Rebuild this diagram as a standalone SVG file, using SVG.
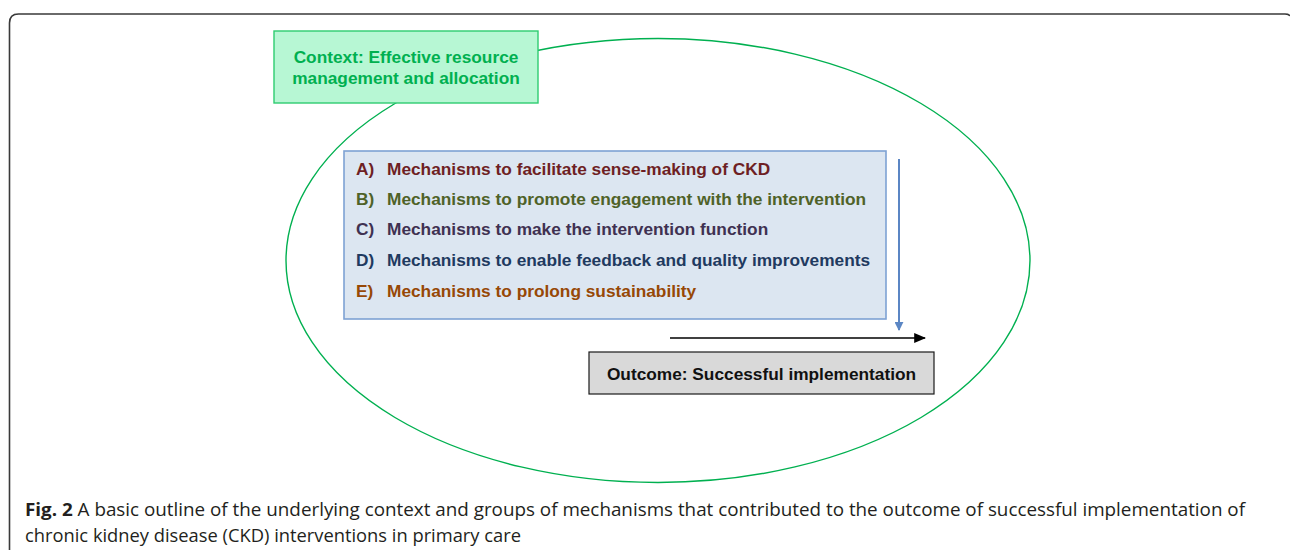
<svg xmlns="http://www.w3.org/2000/svg" width="1290" height="550" viewBox="0 0 1290 550">
  <defs>
    <style>
      .frame { fill: none; stroke: #3a3a3a; stroke-width: 1.6; }
      .context-ring { fill: none; stroke: #00b050; stroke-width: 1.4; }
      .ctx-box { fill: #b7f7d4; stroke: #2ecc71; stroke-width: 1.4; }
      .mech-box { fill: #dce6f1; stroke: #7ea2d4; stroke-width: 1.6; }
      .out-box { fill: #d9d9d9; stroke: #1a1a1a; stroke-width: 1.2; }
      .lbl { font-family: "Liberation Sans", Arial, sans-serif; font-weight: bold; font-size: 17.3px; }
      .ctx-text { fill: #00b050; text-anchor: middle; }
      .a { fill: #6e1f24; }
      .b { fill: #4f6228; }
      .c { fill: #3f3151; }
      .d { fill: #1f3a60; }
      .e { fill: #974806; }
      .out-text { fill: #111111; text-anchor: middle; }
      .caption { font-family: "Open Sans", "Liberation Sans", sans-serif; font-size: 18px; fill: #231f20; }
    </style>
    <marker id="head-blue" viewBox="0 0 10 10" refX="9" refY="5" markerWidth="9" markerHeight="9" orient="auto" markerUnits="userSpaceOnUse">
      <path d="M0,0 L10,5 L0,10 z" fill="#5b86c4"/>
    </marker>
    <marker id="head-black" viewBox="0 0 10 10" refX="9" refY="5" markerWidth="12" markerHeight="10" orient="auto" markerUnits="userSpaceOnUse" preserveAspectRatio="none">
      <path d="M0,0 L10,5 L0,10 z" fill="#000000"/>
    </marker>
  </defs>

  <!-- figure frame: rounded top-left corner, open to the right and bottom -->
  <path class="frame" d="M9.5,550 V23 Q9.5,14 18.5,14 H1285 Q1289,14 1290,16"/>

  <!-- context ellipse -->
  <g id="context-ring">
    <ellipse class="context-ring" cx="658" cy="260.5" rx="372" ry="222"/>
  </g>

  <g id="context">
    <rect class="ctx-box" x="274" y="31" width="264" height="72"/>
    <text class="lbl ctx-text" x="406" y="63">Context: Effective resource</text>
    <text class="lbl ctx-text" x="406" y="84">management and allocation</text>
  </g>

  <g id="mechanisms">
    <rect class="mech-box" x="344" y="151" width="542" height="168"/>
    <text class="lbl a" x="356" y="175">A)</text>
    <text class="lbl a" x="387" y="175">Mechanisms to facilitate sense-making of CKD</text>
    <text class="lbl b" x="356" y="205">B)</text>
    <text class="lbl b" x="387" y="205">Mechanisms to promote engagement with the intervention</text>
    <text class="lbl c" x="356" y="235">C)</text>
    <text class="lbl c" x="387" y="235">Mechanisms to make the intervention function</text>
    <text class="lbl d" x="356" y="266">D)</text>
    <text class="lbl d" x="387" y="266">Mechanisms to enable feedback and quality improvements</text>
    <text class="lbl e" x="356" y="297">E)</text>
    <text class="lbl e" x="387" y="297">Mechanisms to prolong sustainability</text>
  </g>

  <g id="outcome">
    <rect class="out-box" x="589" y="352" width="345" height="42"/>
    <text class="lbl out-text" x="761.5" y="380">Outcome: Successful implementation</text>
  </g>

  <g id="connectors">
    <line x1="899" y1="159" x2="899" y2="330" stroke="#5b86c4" stroke-width="2" marker-end="url(#head-blue)"/>
    <line x1="670" y1="338" x2="925" y2="338" stroke="#000000" stroke-width="1.6" marker-end="url(#head-black)"/>
  </g>

  <g id="caption">
    <text class="caption" x="25" y="516" textLength="1220" lengthAdjust="spacingAndGlyphs"><tspan font-weight="bold">Fig. 2</tspan> A basic outline of the underlying context and groups of mechanisms that contributed to the outcome of successful implementation of</text>
    <text class="caption" x="25" y="542" textLength="496" lengthAdjust="spacingAndGlyphs">chronic kidney disease (CKD) interventions in primary care</text>
  </g>
</svg>
